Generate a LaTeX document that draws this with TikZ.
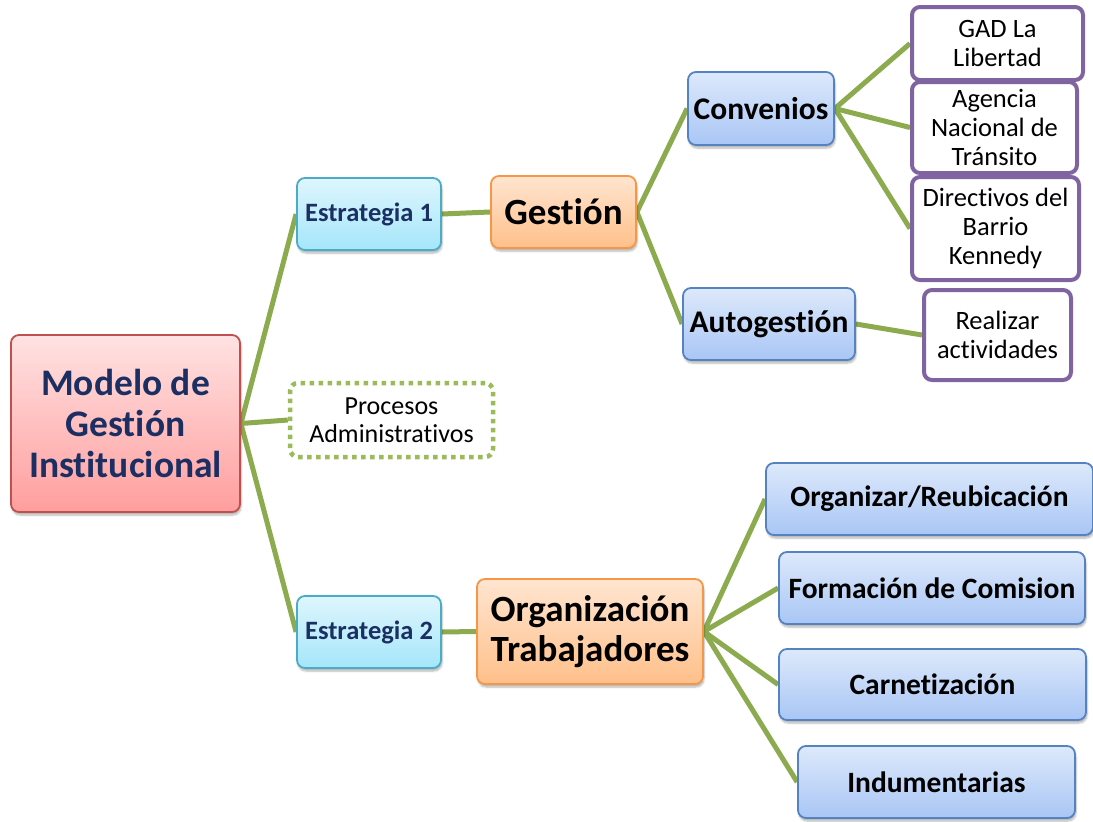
\documentclass[tikz,border=0pt]{standalone}
\usepackage{fontspec}
\setmainfont{Carlito}[Ligatures={NoCommon}]
\usetikzlibrary{shadows.blur,backgrounds}
\definecolor{conn}{HTML}{8CAA4E}
\definecolor{navy}{HTML}{1B2F63}
\definecolor{purp}{HTML}{8064A2}
\definecolor{bluebd}{HTML}{5582C0}
\definecolor{bluetop}{HTML}{DDE9FB}
\definecolor{bluebot}{HTML}{A9C6F5}
\definecolor{cyanbd}{HTML}{4BACC6}
\definecolor{cyantop}{HTML}{DEF6FD}
\definecolor{cyanbot}{HTML}{A5E6FB}
\definecolor{orbd}{HTML}{F79646}
\definecolor{ortop}{HTML}{FFE5D0}
\definecolor{orbot}{HTML}{FFC08A}
\definecolor{pinkbd}{HTML}{C0504D}
\definecolor{pinktop}{HTML}{FFE2E2}
\definecolor{pinkbot}{HTML}{FF9E9E}
\definecolor{dotgreen}{HTML}{9BBB59}
\begin{document}
\begin{tikzpicture}[x=1pt,y=-1pt,
  base/.style={rectangle, rounded corners=8pt, inner sep=0pt, align=center},
  shad/.style={blur shadow={shadow blur steps=6, shadow xshift=1pt, shadow yshift=-3pt, shadow opacity=30}},
  pinkbox/.style={base, shad, draw=pinkbd, line width=1.8pt, top color=pinktop, bottom color=pinkbot, text=navy, font=\fontsize{37.5}{41}\selectfont\bfseries},
  cyanbox/.style={base, shad, draw=cyanbd, line width=1.8pt, top color=cyantop, bottom color=cyanbot, text=navy, font=\fontsize{26.5}{29}\selectfont\bfseries},
  orbox/.style={base, shad, draw=orbd, line width=1.8pt, top color=ortop, bottom color=orbot, text=black, font=\fontsize{37}{40}\selectfont\bfseries},
  bluebox/.style={base, shad, draw=bluebd, line width=1.8pt, top color=bluetop, bottom color=bluebot, text=black, font=\fontsize{31.5}{34}\selectfont\bfseries},
  bluesm/.style={bluebox, font=\fontsize{29.5}{32}\selectfont\bfseries},
  purpbox/.style={base, draw=purp, line width=4pt, fill=white, text=black, font=\fontsize{26.5}{29}\selectfont},
  dotbox/.style={base, draw=dotgreen, line width=4.5pt, dash pattern=on 4.5pt off 4.5pt, fill=white, text=black, font=\fontsize{26}{28}\selectfont},
  connector/.style={draw=conn, line width=5pt}
]
\useasboundingbox (0,0) rectangle (1093,822);

\node[pinkbox, minimum width=229pt, minimum height=177pt] (modelo) at (125.5,423.5) {Modelo de\\Gestión\\Institucional};

\node[cyanbox, minimum width=144pt, minimum height=72pt] (e1) at (369,214) {Estrategia 1};
\node[cyanbox, minimum width=144pt, minimum height=72pt] (e2) at (369,632) {Estrategia 2};

\node[dotbox, minimum width=203pt, minimum height=74pt] (proc) at (391.5,420) {Procesos\\Administrativos};

\node[orbox, minimum width=145pt, minimum height=72pt] (gest) at (563.5,212) {Gestión};
\node[orbox, minimum width=226pt, minimum height=105pt] (org) at (590,631.5) {Organización\\Trabajadores};

\node[bluebox, minimum width=146pt, minimum height=73pt] (conv) at (761,108.5) {Convenios};
\node[bluebox, minimum width=172pt, minimum height=72pt] (auto) at (769,324) {Autogestión};

\node[purpbox, minimum width=171pt, minimum height=73pt] (gad) at (997.5,43.5) {GAD La\\Libertad};
\node[purpbox, minimum width=165pt, minimum height=91pt] (anT) at (994.5,127.5) {Agencia\\Nacional de\\Tránsito};
\node[purpbox, minimum width=167pt, minimum height=103pt] (dir) at (995.5,228.5) {Directivos del\\Barrio\\Kennedy};
\node[purpbox, minimum width=147pt, minimum height=90pt] (real) at (997.5,335) {Realizar\\actividades};

\node[bluesm, minimum width=327pt, minimum height=72pt] (o1) at (929.5,499) {Organizar/Reubicación};
\node[bluesm, minimum width=306pt, minimum height=72pt] (o2) at (932,588) {Formación de Comision};
\node[bluesm, minimum width=307pt, minimum height=71pt] (o3) at (932.5,684.5) {Carnetización};
\node[bluesm, minimum width=277pt, minimum height=72pt] (o4) at (936.5,782) {Indumentarias};

\begin{scope}[on background layer]
\draw[connector] (modelo.east) -- (e1.west);
\draw[connector] (modelo.east) -- (proc.west);
\draw[connector] (modelo.east) -- (e2.west);
\draw[connector] (e1.east) -- (gest.west);
\draw[connector] (e2.east) -- (org.west);
\draw[connector] (gest.east) -- (conv.west);
\draw[connector] (gest.east) -- (auto.west);
\draw[connector] (conv.east) -- (gad.west);
\draw[connector] (conv.east) -- (anT.west);
\draw[connector] (conv.east) -- (dir.west);
\draw[connector] (auto.east) -- (real.west);
\draw[connector] (org.east) -- (o1.west);
\draw[connector] (org.east) -- (o2.west);
\draw[connector] (org.east) -- (o3.west);
\draw[connector] (org.east) -- (o4.west);
\end{scope}
\end{tikzpicture}
\end{document}
